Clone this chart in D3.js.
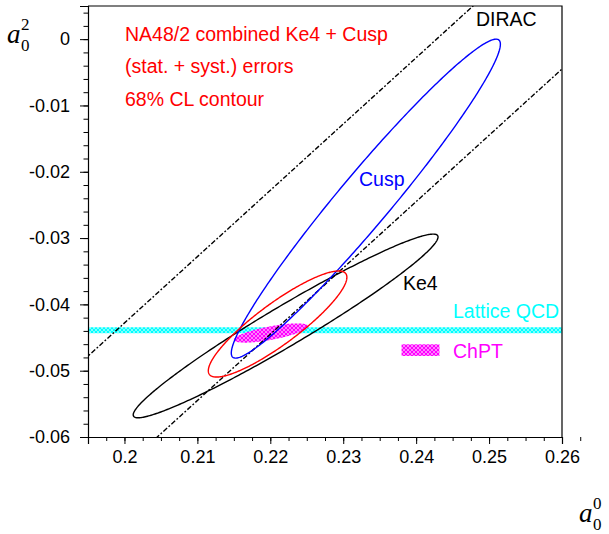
<!DOCTYPE html>
<html>
<head>
<meta charset="utf-8">
<script src="https://cdn.jsdelivr.net/npm/d3@7"></script>
<style>
  body { margin: 0; background: #fff; }
  svg { display: block; }
  text { font-family: "Liberation Sans", Arial, sans-serif; }
</style>
</head>
<body>
<svg id="chart" width="609" height="534"></svg>
<script>
// tick values and labels
var xTicks = [0.2, 0.21, 0.22, 0.23, 0.24, 0.25, 0.26];
var xTickLabels = ["0.2", "0.21", "0.22", "0.23", "0.24", "0.25", "0.26"];
var yTicks = [-0.06, -0.05, -0.04, -0.03, -0.02, -0.01, 0];
var yTickLabels = ["-0.06", "-0.05", "-0.04", "-0.03", "-0.02", "-0.01", "0"];

// 68% CL contours: centre, half extent in a0 and a2, correlation
var contourNames = ["Ke4", "Cusp", "Combined"];
var centerA0 = [0.2221, 0.2331, 0.2210];
var centerA2 = [-0.04325, -0.02405, -0.04296];
var halfA0 = [0.0209, 0.01845, 0.0095];
var halfA2 = [0.01385, 0.02405, 0.0080];
var corr = [0.968, 0.968, 0.88];
var contourColors = ["#000", "#0000ff", "#ff0000"];

// DIRAC band: a0 - a2 = const
var diracOffsets = [0.2428, 0.2645];

// Lattice QCD a2 band
var latticeA2 = -0.0439;
var latticeErr = 0.00045;

// ChPT prediction
var chptA0 = 0.2201, chptA2 = -0.04432;
var chptHalfA0 = 0.0051, chptHalfA2 = 0.00145, chptCorr = 0.7;
var chptLegendA0 = [0.2380, 0.2432];
var chptLegendA2 = [-0.04778, -0.04602];

var margin = { left: 88, right: 47, top: 6, bottom: 97 };
var width = 609, height = 534;

var x = d3.scaleLinear().domain([0.195, 0.26]).range([margin.left, width - margin.right]);
var y = d3.scaleLinear().domain([-0.06, 0.005]).range([height - margin.bottom, margin.top]);

var svg = d3.select('#chart');
var defs = svg.append('defs');

defs.append('clipPath').attr('id', 'plotclip')
  .append('rect')
  .attr('x', x(0.195)).attr('y', y(0.005))
  .attr('width', x(0.26) - x(0.195))
  .attr('height', y(-0.06) - y(0.005));

// small cross hatch, like the root fill style
function hatch(id, color) {
  var p = defs.append('pattern')
    .attr('id', id)
    .attr('patternUnits', 'userSpaceOnUse')
    .attr('width', 4).attr('height', 4);
  p.append('rect').attr('width', 4).attr('height', 4).style('fill', color);
  p.append('rect').attr('x', 1.5).attr('y', 0).attr('width', 1).attr('height', 1).style('fill', '#fff');
  p.append('rect').attr('x', 0).attr('y', 1.5).attr('width', 1).attr('height', 1).style('fill', '#fff');
  p.append('rect').attr('x', 3).attr('y', 1.5).attr('width', 1).attr('height', 1).style('fill', '#fff');
  p.append('rect').attr('x', 1.5).attr('y', 3).attr('width', 1).attr('height', 1).style('fill', '#fff');
  p.append('rect').attr('x', 1.5).attr('y', 1.5).attr('width', 1).attr('height', 1).style('fill', color);
}
hatch('hcyan', '#00ffff');
hatch('hmag', '#ff00ff');

var plot = svg.append('g').attr('clip-path', 'url(#plotclip)');

function ellipsePoints(cx, cy, ax, ay, r) {
  var pts = [];
  var s = Math.sqrt(1 - r * r);
  for (var i = 0; i <= 360; i += 1) {
    var t = i * Math.PI / 180;
    pts.push([cx + ax * Math.cos(t), cy + ay * (r * Math.cos(t) + s * Math.sin(t))]);
  }
  return pts;
}

var line = d3.line()
  .x(function (d) { return x(d[0]); })
  .y(function (d) { return y(d[1]); });

// lattice band
plot.append('rect')
  .attr('x', x(0.195))
  .attr('y', y(latticeA2 + latticeErr))
  .attr('width', x(0.26) - x(0.195))
  .attr('height', y(latticeA2 - latticeErr) - y(latticeA2 + latticeErr))
  .style('fill', 'url(#hcyan)');

// ChPT region
plot.append('path')
  .attr('d', line(ellipsePoints(chptA0, chptA2, chptHalfA0, chptHalfA2, chptCorr)) + 'Z')
  .style('fill', 'url(#hmag)');

// ChPT legend box
plot.append('rect')
  .attr('x', x(chptLegendA0[0]))
  .attr('y', y(chptLegendA2[1]))
  .attr('width', x(chptLegendA0[1]) - x(chptLegendA0[0]))
  .attr('height', y(chptLegendA2[0]) - y(chptLegendA2[1]))
  .style('fill', 'url(#hmag)');

// DIRAC lines
diracOffsets.forEach(function (c) {
  plot.append('line')
    .attr('x1', x(0.19)).attr('y1', y(0.19 - c))
    .attr('x2', x(0.27)).attr('y2', y(0.27 - c))
    .style('stroke', '#000')
    .style('stroke-width', 1.4)
    .style('stroke-dasharray', '5,2,1.8,2');
});

// contours
contourNames.forEach(function (name, i) {
  plot.append('path')
    .attr('d', line(ellipsePoints(centerA0[i], centerA2[i], halfA0[i], halfA2[i], corr[i])) + 'Z')
    .style('fill', 'none')
    .style('stroke', contourColors[i])
    .style('stroke-width', 1.4);
});

// axes
var xAxis = svg.append('g')
  .attr('transform', 'translate(0,' + y(-0.06) + ')')
  .call(d3.axisBottom(x).tickValues(xTicks)
    .tickFormat(function (d, i) { return xTickLabels[i]; })
    .tickSize(7).tickPadding(5));
svg.append('g')
  .attr('transform', 'translate(0,' + y(-0.06) + ')')
  .call(d3.axisBottom(x).tickValues(d3.range(0, 27).map(function (i) { return 0.1975 + i * 0.0025; }))
    .tickFormat('').tickSize(4))
  .select('.domain').remove();

var yAxis = svg.append('g')
  .attr('transform', 'translate(' + x(0.195) + ',0)')
  .call(d3.axisLeft(y).tickValues(yTicks)
    .tickFormat(function (d, i) { return yTickLabels[i]; })
    .tickSize(8).tickPadding(10));
svg.append('g')
  .attr('transform', 'translate(' + x(0.195) + ',0)')
  .call(d3.axisLeft(y).tickValues(d3.range(0, 33).map(function (i) { return -0.06 + i * 0.002; }))
    .tickFormat('').tickSize(4.5))
  .select('.domain').remove();

svg.selectAll('.tick line').style('stroke', '#000').style('stroke-width', 1);
svg.selectAll('.domain').style('stroke', '#000').style('stroke-width', 1.2);
xAxis.selectAll('.tick text').style('font-size', '18px').style('font-family', '"Liberation Sans", Arial, sans-serif').attr('dy', '0.75em');
yAxis.selectAll('.tick text').style('font-size', '18px').style('font-family', '"Liberation Sans", Arial, sans-serif');

// frame top and right
svg.append('path')
  .attr('d', 'M' + x(0.195) + ',' + y(0.005) + 'H' + x(0.26) + 'V' + y(-0.06))
  .style('fill', 'none').style('stroke', '#000').style('stroke-width', 1.2);

// annotations
function label(txt, px, py, color) {
  svg.append('text')
    .attr('x', px).attr('y', py)
    .style('font-size', '19.5px')
    .style('fill', color)
    .text(txt);
}
label('NA48/2 combined Ke4 + Cusp', 125, 41, '#ff0000');
label('(stat. + syst.) errors', 125, 73, '#ff0000');
label('68% CL contour', 125, 106, '#ff0000');
label('DIRAC', 476, 26, '#000');
label('Cusp', 359, 186, '#0000ff');
label('Ke4', 403, 290, '#000');
label('Lattice QCD', 453, 318, '#00ffff');
label('ChPT', 453, 358, '#ff00ff');

// axis titles
function axisTitle(px, py, sup) {
  var t = svg.append('text')
    .attr('x', px).attr('y', py)
    .style('font-family', '"Liberation Serif", "Times New Roman", serif');
  t.append('tspan').style('font-style', 'italic').style('font-size', '27px').text('a');
  var sx = px + 14;
  t.append('tspan').attr('x', sx).attr('y', py - 13).style('font-size', '17px').text(sup);
  t.append('tspan').attr('x', sx).attr('y', py + 8).style('font-size', '17px').text('0');
}
axisTitle(7, 43, '2');
axisTitle(579, 522, '0');
</script>
</body>
</html>
